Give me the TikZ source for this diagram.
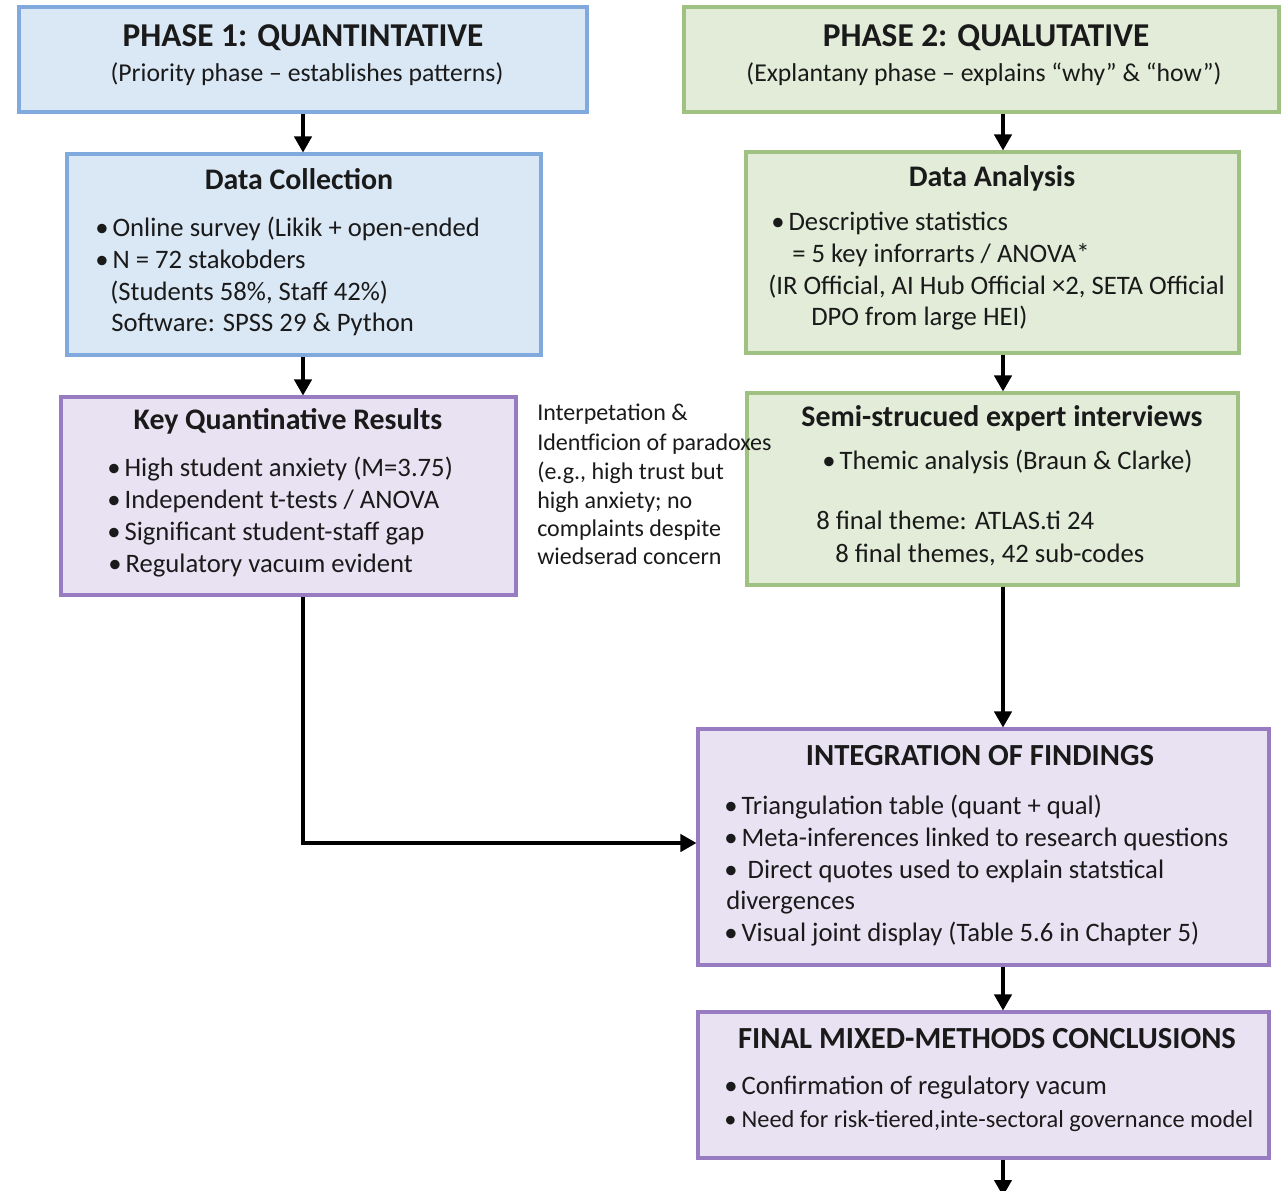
\documentclass[tikz,border=0pt]{standalone}
\usepackage{fontspec}
\setmainfont{Carlito}
\usetikzlibrary{arrows.meta,fit}
\definecolor{blueF}{HTML}{DAE8F6}
\definecolor{blueD}{HTML}{80AADD}
\definecolor{greenF}{HTML}{E2ECD8}
\definecolor{greenD}{HTML}{9FC282}
\definecolor{purpF}{HTML}{E9E2F3}
\definecolor{purpD}{HTML}{987CC2}
\definecolor{ink}{HTML}{1A1A1A}
\newdimen\bwid \bwid=13pt
\newcommand{\bl}{\makebox[\bwid][l]{•}}
\begin{document}
\begin{tikzpicture}[x=0.75pt,y=-0.75pt,
  boxc/.style={inner sep=0pt, line width=2.3pt},
  bluebox/.style={boxc, draw=blueD, fill=blueF},
  greenbox/.style={boxc, draw=greenD, fill=greenF},
  purpbox/.style={boxc, draw=purpD, fill=purpF},
  ttl/.style={anchor=base, inner sep=0pt, text=ink, font=\bfseries\fontsize{25}{27}\selectfont},
  sttl/.style={anchor=base, inner sep=0pt, text=ink, font=\bfseries\fontsize{22.4}{24}\selectfont},
  cttl/.style={anchor=base, inner sep=0pt, text=ink, font=\bfseries\fontsize{23}{25}\selectfont},
  sub/.style={anchor=base, inner sep=0pt, text=ink, font=\fontsize{19.3}{22}\selectfont},
  txt/.style={anchor=base west, inner sep=0pt, text=ink, font=\fontsize{20}{22}\selectfont},
  itxt/.style={anchor=base west, inner sep=0pt, text=ink, font=\fontsize{18}{20}\selectfont},
  arr/.style={draw=black, line width=2.4pt, -{Triangle[width=13pt,length=12pt]}}
]
\useasboundingbox (0,0) rectangle (1281,1190);
\fill[white] (0,0) rectangle (1281,1190);

% boxes
\node[fit={(19,7) (587,112)}, bluebox] (p1) {};
\node[fit={(684,7) (1279,112)}, greenbox] (p2) {};
\node[fit={(67,154) (541,355)}, bluebox] (dc) {};
\node[fit={(746,152) (1239,353)}, greenbox] (da) {};
\node[fit={(61,397) (516,595)}, purpbox] (kqr) {};
\node[fit={(747,393) (1238,585)}, greenbox] (ss) {};
\node[fit={(698,729) (1269,965)}, purpbox] (integ) {};
\node[fit={(698,1012) (1269,1158)}, purpbox] (fin) {};

% Phase 1
\node[ttl] (p1t) at (303,46) {PHASE 1: QUANTINTATIVE};
\node[sub] (p1s) at (307,81) {(Priority phase – establishes patterns)};
% Phase 2
\node[ttl] (p2t) at (986,46) {PHASE 2: QUALUTATIVE};
\node[sub] (p2s) at (984,81) {(Explantany phase – explains “why” \& “how”)};

% Data collection
\node[sttl] (dct) at (299,189) {Data Collection};
\node[txt] (dc1) at (95,236) {\bl Online survey (Likik + open-ended};
\node[txt] (dc2) at (95,268) {\bl N = 72 stakobders};
\node[txt] (dc3) at (110,300) {(Students 58\%, Staff 42\%)};
\node[txt] (dc4) at (111,331) {Software: SPSS 29 \& Python};

% Data analysis
\node[sttl] (dat) at (992,186) {Data Analysis};
\node[txt] (da1) at (771,230) {\bl Descriptive statistics};
\node[txt] (da2) at (792,262) {= 5 key inforrarts / ANOVA*};
\node[txt] (da3) at (768,294) {(IR Official, AI Hub Official ×2, SETA Official};
\node[txt] (da4) at (811,325) {DPO from large HEI)};

% Key quantitative results
\node[sttl] (kqt) at (288,429) {Key Quantinative Results};
\node[txt] (kq1) at (107,476) {\bl High student anxiety (M=3.75)};
\node[txt] (kq2) at (107,508) {\bl Independent t-tests / ANOVA};
\node[txt] (kq3) at (107,540) {\bl Significant student-staff gap};
\node[txt] (kq4) at (108,572) {\bl Regulatory vacuım evident};

% Interpretation
\node[itxt] (in1) at (537,420) {Interpetation \&};
\node[itxt] (in2) at (537,450) {Identficion of paradoxes};
\node[itxt] (in3) at (537,479) {(e.g., high trust but};
\node[itxt] (in4) at (537,508) {high anxiety; no};
\node[itxt] (in5) at (537,536) {complaints despite};
\node[itxt] (in6) at (537,564) {wiedserad concern};

% Semi-structured
\node[sttl] (sst) at (1002,426) {Semi-strucued expert interviews};
\node[txt] (ss1) at (822,469) {\bl Themic analysis (Braun \& Clarke)};
\node[txt] (ss2) at (816,529) {8 final theme: ATLAS.ti 24};
\node[txt] (ss3) at (835,562) {8 final themes, 42 sub-codes};

% Integration
\node[cttl] (igt) at (980,765) {INTEGRATION OF FINDINGS};
\node[txt] (ig1) at (724,814) {\bl Triangulation table (quant + qual)};
\node[txt] (ig2) at (724,846) {\bl Meta-inferences linked to research questions};
\node[txt] (ig3) at (724,878) {\bl\ Direct quotes used to explain statstical};
\node[txt] (ig4) at (726,909) {divergences};
\node[txt] (ig5) at (724,941) {\bl Visual joint display (Table 5.6 in Chapter 5)};

% Final
\node[cttl] (fnt) at (987,1048) {FINAL MIXED-METHODS CONCLUSIONS};
\node[txt] (fn1) at (724,1094) {\bl Confirmation of regulatory vacum};
\node[txt, font=\fontsize{18.3}{22}\selectfont] (fn2) at (724,1127) {\bl Need for risk-tiered,inte-sectoral governance model};

% connectors
\coordinate (colL) at (303,0);
\coordinate (colR) at (1003,0);
\coordinate (elb) at (0,843);
\coordinate (outp) at (1003,1196);
\draw[arr] (p1.south -| colL) -- (dc.north -| colL);
\draw[arr] (dc.south -| colL) -- (kqr.north -| colL);
\draw[arr] (p2.south -| colR) -- (da.north -| colR);
\draw[arr] (da.south -| colR) -- (ss.north -| colR);
\draw[arr] (ss.south -| colR) -- (integ.north -| colR);
\draw[arr] (kqr.south -| colL) |- (integ.west |- elb);
\draw[arr] (integ.south -| colR) -- (fin.north -| colR);
\draw[arr] (fin.south -| colR) -- (outp);
\end{tikzpicture}
\end{document}
